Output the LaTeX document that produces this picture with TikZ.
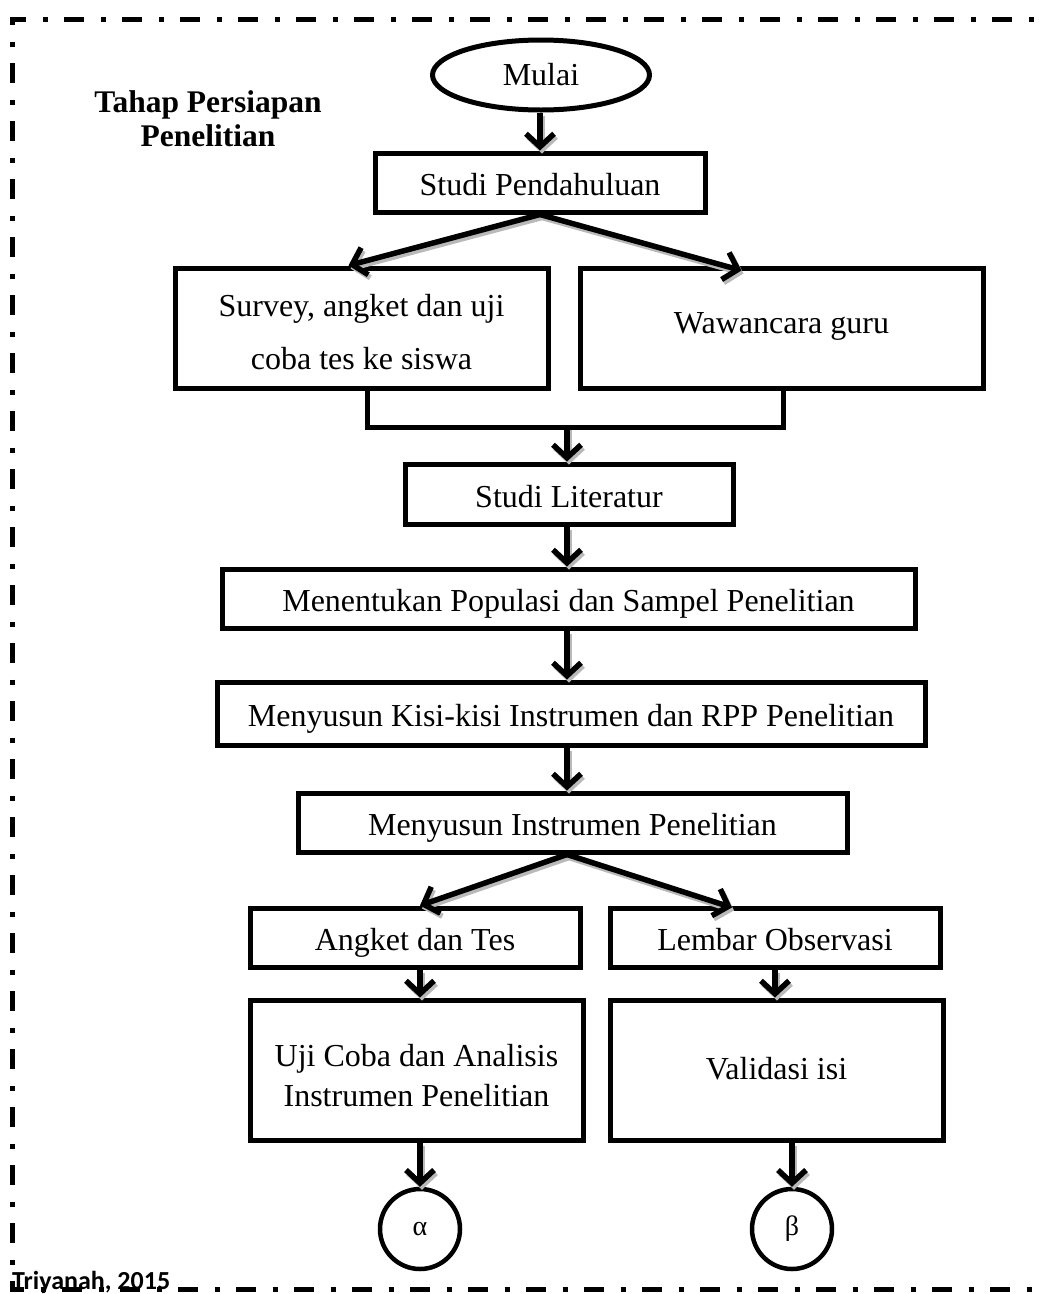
\documentclass[tikz,border=0pt]{standalone}
\usepackage{fontspec}
\setmainfont{Liberation Serif}
\newfontfamily\capfont{Carlito}
\usetikzlibrary{arrows.meta,shapes.geometric,calc}
\newcommand\sarr[1]{%
  \begin{scope}[transform canvas={shift={(2pt,-3pt)}}]\draw[arr, draw=gray!55] #1;\end{scope}%
  \draw[arr] #1;}
\begin{document}
\begin{tikzpicture}[x=1pt,y=-1pt,
  box/.style={draw, line width=5pt, rectangle, inner sep=0pt, align=center,
    font=\fontsize{32}{40}\selectfont},
  one/.style={text height=28pt, text depth=2pt},
  arr/.style={line width=5.5pt, -{Straight Barb[length=13pt,width=28pt]}},
  link/.style={line width=5pt},
  frame/.style={line width=5pt, dash pattern=on 20pt off 16.5pt on 5pt off 16.5pt},
  conn/.style={draw, circle, line width=4.5pt, minimum size=80pt, inner sep=0pt,
    font=\fontsize{28}{30}\selectfont},
  title/.style={font=\fontsize{31.5}{34}\selectfont\bfseries, align=center}
]
\useasboundingbox (0,0) rectangle (1045,1294);

% caption at bottom left
\node[anchor=base west, inner sep=0pt, font=\capfont\bfseries\fontsize{26}{30}\selectfont] (cap) at (12,1289) {Triyanah, 2015};

% outer frame
\draw[frame] (1070,19) -- (12,19) -- (12,1289) -- (1070,1289);

% title
\node[title] (ttl) at (208,119) {Tahap Persiapan\\Penelitian};

% nodes
\node[draw, ellipse, line width=5pt, minimum width=217pt, minimum height=70pt, inner sep=0pt,
  font=\fontsize{32}{40}\selectfont] (mulai) at (541,75) {Mulai};
\node[box, one, minimum width=330pt, minimum height=59pt] (sp) at (540,182.5) {Studi Pendahuluan};
\node[box, minimum width=373pt, minimum height=120pt, font=\fontsize{32}{53}\selectfont,
  text height=86pt, text depth=4pt] (sv) at (361.5,328) {Survey, angket dan uji\\coba tes ke siswa};
\node[box, minimum width=403pt, minimum height=120pt, text height=18pt, text depth=8pt] (ww) at (781.5,328) {Wawancara guru};
\coordinate (mg) at (567,427);
\node[box, one, minimum width=328pt, minimum height=60pt] (sl) at (569,494) {Studi Literatur};
\node[box, one, minimum width=693pt, minimum height=59pt] (mp) at (568.5,598.5) {Menentukan Populasi dan Sampel Penelitian};
\node[box, one, minimum width=708pt, minimum height=63pt] (mk) at (571,713.5) {Menyusun Kisi-kisi Instrumen dan RPP Penelitian};
\node[box, one, minimum width=549pt, minimum height=59pt] (mi) at (572.5,822.5) {Menyusun Instrumen Penelitian};
\node[box, one, minimum width=330pt, minimum height=59pt] (at) at (415,937.5) {Angket dan Tes};
\node[box, one, minimum width=330pt, minimum height=59pt] (lo) at (775,937.5) {Lembar Observasi};
\node[box, minimum width=333pt, minimum height=140pt, font=\fontsize{32}{40}\selectfont,
  text height=74pt, text depth=2pt] (uc) at (416.5,1070) {Uji Coba dan Analisis\\Instrumen Penelitian};
\node[box, minimum width=333pt, minimum height=140pt, text height=22pt, text depth=4pt] (vi) at (776.5,1070) {Validasi isi};
\node[conn] (alpha) at (420,1229) {α};
\node[conn] (beta) at (792,1229) {β};

% connectors
\sarr{(mulai.south -| sp.north) -- (sp.north)}
\sarr{(sp.south) -- ([xshift=-13pt]sv.north)}
\sarr{(sp.south) -- ([xshift=-40pt,yshift=-5pt]ww.north)}
\draw[link] ([xshift=6pt]sv.south) -- ([xshift=6pt]sv.south |- mg) -- ([xshift=2pt]ww.south |- mg) -- ([xshift=2pt]ww.south);
\sarr{(mg) -- (mg |- sl.north)}
\sarr{(mg |- sl.south) -- (mg |- mp.north)}
\sarr{(mg |- mp.south) -- (mg |- mk.north)}
\sarr{(mg |- mk.south) -- (mg |- mi.north)}
\sarr{(mg |- mi.south) -- ([xshift=5pt]at.north)}
\sarr{(mg |- mi.south) -- ([xshift=-43pt,yshift=-2pt]lo.north)}
\sarr{(alpha.north |- at.south) -- (alpha.north |- uc.north)}
\sarr{(lo.south) -- (lo.south |- vi.north)}
\sarr{(alpha.north |- uc.south) -- (alpha.north)}
\sarr{(beta.north |- vi.south) -- (beta.north)}
\end{tikzpicture}
\end{document}
